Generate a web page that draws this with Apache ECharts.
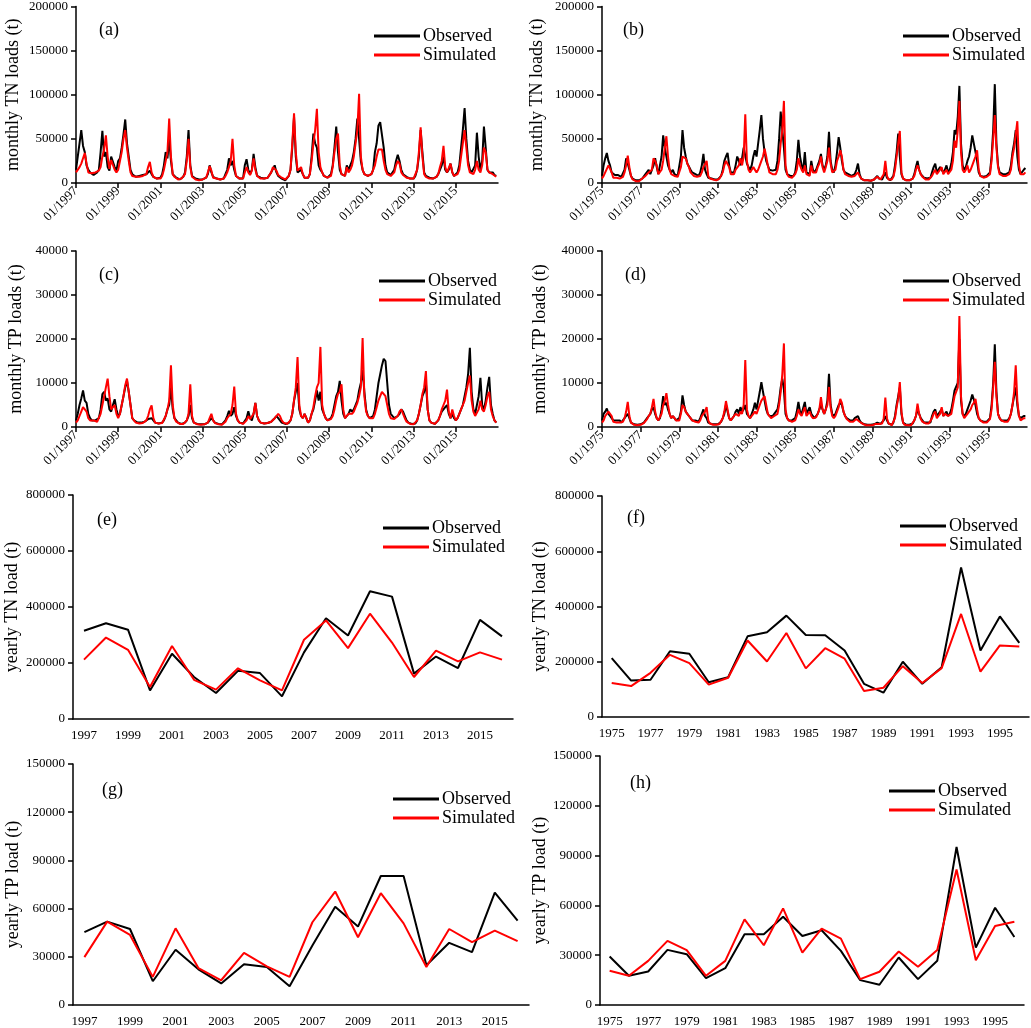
<!DOCTYPE html>
<html><head><meta charset="utf-8">
<script src="https://cdn.jsdelivr.net/npm/echarts/dist/echarts.min.js"></script>
<style>html,body{margin:0;padding:0;background:#fff}#c{width:1031px;height:1028px}</style>
</head><body><div id="c"></div>
<script>
// ---------- categories / tick labels ----------
const yearsE = ['1997','1998','1999','2000','2001','2002','2003','2004','2005','2006','2007','2008','2009','2010','2011','2012','2013','2014','2015','2016'];
const yearsF = ['1975','1976','1977','1978','1979','1980','1981','1982','1983','1984','1985','1986','1987','1988','1989','1990','1991','1992','1993','1994','1995','1996'];
const monthlyStartA = 1997, monthlyEndA = 2017;
const monthlyStartB = 1975, monthlyEndB = 1997;

// ---------- (a) monthly TN 1997-2016 ----------
const tnObsA = [
15000,30000,45000,60000,42000,35000,20000,15000,12000,10000,9000,9000,
12000,15000,35000,59000,30000,35000,18000,14000,30000,31000,18000,14000,
25000,28000,40000,55000,72000,45000,30000,15000,10000,8000,7000,8000,
8000,8000,9000,9000,10000,12000,14000,10000,7000,6000,5000,5000,
6000,10000,20000,35000,28000,50000,25000,10000,8000,6000,5000,4000,
5000,7000,12000,30000,60000,20000,8000,6000,5000,4000,4000,4000,
4000,5000,6000,10000,20000,12000,7000,6000,5000,5000,4000,4000,
5000,10000,15000,28000,20000,25000,15000,8000,6000,5000,5000,5000,
20000,27000,15000,10000,15000,33000,18000,8000,7000,6000,5000,5000,
5000,6000,8000,12000,16000,20000,12000,8000,6000,5000,4000,3000,
5000,8000,15000,40000,75000,30000,12000,10000,15000,10000,6000,5000,
6000,10000,30000,56000,45000,40000,20000,15000,12000,8000,7000,6000,
6000,10000,20000,40000,64000,35000,15000,10000,8000,8000,20000,15000,
20000,25000,35000,50000,73000,50000,25000,15000,10000,9000,8000,8000,
10000,15000,35000,45000,65000,69000,69000,40000,20000,12000,10000,9000,
8000,15000,25000,32000,25000,15000,10000,8000,7000,6000,5000,5000,
5000,8000,15000,30000,60000,35000,12000,8000,6000,6000,5000,5000,
5000,7000,10000,15000,20000,30000,15000,12000,15000,22000,12000,8000,
8000,12000,20000,40000,60000,85000,50000,25000,15000,12000,10000,20000,
57000,30000,15000,25000,64000,40000,15000,12000,10000,12000,9000,8000];
const tnSimA = [
12000,14000,18000,22000,28000,34000,22000,12000,10000,11000,13000,12000,
10000,14000,18000,30000,38000,54000,30000,16000,26000,28000,15000,12000,
15000,25000,35000,50000,60000,40000,25000,12000,8000,8000,7000,7000,
7000,7000,8000,8000,10000,18000,24000,12000,7000,6000,5000,5000,
5000,8000,15000,25000,35000,73000,30000,10000,7000,5000,4000,4000,
5000,6000,10000,25000,50000,18000,7000,5000,4000,4000,3000,3000,
4000,5000,6000,12000,19000,14000,6000,5000,5000,4000,4000,4000,
5000,8000,12000,18000,25000,50000,20000,8000,6000,5000,5000,5000,
12000,18000,12000,9000,14000,28000,15000,8000,6000,5000,5000,5000,
5000,6000,8000,12000,18000,20000,14000,9000,7000,6000,5000,4000,
5000,8000,15000,45000,79000,35000,14000,12000,18000,10000,6000,5000,
6000,10000,25000,45000,60000,84000,35000,18000,12000,8000,7000,6000,
6000,8000,18000,35000,50000,56000,20000,10000,8000,8000,18000,12000,
15000,20000,30000,45000,60000,101000,30000,15000,10000,9000,8000,8000,
10000,12000,20000,30000,38000,40000,38000,25000,15000,10000,9000,8000,
7000,12000,20000,25000,22000,12000,9000,7000,6000,5000,5000,5000,
5000,7000,15000,35000,63000,30000,10000,7000,6000,5000,5000,5000,
5000,7000,10000,18000,25000,42000,18000,12000,14000,22000,12000,8000,
8000,10000,15000,30000,45000,60000,40000,20000,12000,10000,10000,15000,
25000,15000,12000,20000,40000,35000,15000,12000,10000,10000,8000,7000];

// ---------- (b) monthly TN 1975-1996 ----------
const tnObsB = [
8000,20000,28000,34000,25000,20000,12000,10000,9000,10000,9000,8000,
7000,9000,15000,28000,22000,15000,8000,5000,4000,3000,3000,3000,
4000,5000,6000,10000,12000,15000,10000,12000,20000,28000,18000,10000,
12000,30000,54000,40000,30000,20000,15000,12000,15000,10000,8000,8000,
10000,30000,60000,40000,30000,22000,20000,15000,12000,10000,10000,9000,
8000,12000,20000,33000,15000,10000,6000,5000,5000,4000,4000,4000,
4000,5000,8000,15000,25000,30000,34000,20000,12000,10000,12000,20000,
30000,25000,20000,28000,40000,40000,22000,18000,15000,20000,30000,37000,
30000,45000,60000,77000,50000,35000,25000,20000,15000,15000,14000,15000,
15000,25000,50000,81000,60000,40000,15000,10000,8000,8000,7000,8000,
12000,25000,49000,30000,20000,15000,35000,12000,10000,10000,25000,15000,
12000,15000,20000,25000,33000,20000,15000,20000,30000,58000,25000,15000,
12000,20000,35000,52000,40000,25000,15000,12000,10000,10000,9000,8000,
8000,10000,15000,22000,10000,5000,4000,3000,3000,3000,2500,2500,
3000,4000,6000,8000,5000,4000,4000,8000,12000,6000,4000,3000,
4000,8000,20000,35000,56000,30000,10000,5000,3000,3000,3000,3000,
3000,5000,10000,18000,25000,15000,10000,8000,6000,5000,5000,5000,
6000,12000,18000,22000,12000,15000,18000,20000,12000,15000,20000,12000,
15000,22000,35000,60000,55000,75000,110000,45000,20000,15000,18000,25000,
30000,40000,54000,52000,35000,25000,12000,8000,8000,7000,7000,8000,
8000,12000,30000,60000,112000,45000,20000,12000,10000,10000,10000,10000,
10000,12000,20000,35000,45000,60000,30000,15000,10000,12000,15000,17000];
const tnSimB = [
5000,8000,12000,16000,20000,22000,12000,6000,5000,6000,5000,5000,
5000,7000,12000,20000,31000,18000,8000,4000,3000,2000,2000,2000,
4000,5000,6000,8000,10000,12000,10000,15000,28000,25000,20000,10000,
8000,15000,25000,40000,53000,30000,15000,10000,12000,8000,7000,7000,
8000,18000,30000,32000,28000,22000,18000,12000,10000,8000,8000,7000,
6000,8000,12000,18000,20000,25000,8000,5000,4000,4000,3000,3000,
4000,5000,7000,12000,20000,25000,27000,18000,10000,8000,10000,15000,
15000,20000,28000,20000,30000,78000,25000,15000,12000,15000,18000,20000,
12000,15000,20000,25000,30000,39000,30000,20000,12000,12000,10000,10000,
10000,15000,25000,45000,60000,93000,20000,10000,7000,7000,6000,7000,
10000,15000,28000,20000,15000,12000,20000,10000,8000,8000,20000,12000,
10000,12000,18000,22000,30000,18000,12000,18000,25000,40000,22000,12000,
10000,15000,25000,30000,37000,30000,15000,10000,8000,8000,7000,7000,
7000,8000,10000,12000,8000,5000,4000,3000,3000,3000,2500,2500,
3000,4000,5000,7000,5000,4000,5000,10000,25000,8000,4000,3000,
4000,7000,15000,30000,45000,59000,12000,5000,3000,3000,3000,3000,
3000,5000,8000,15000,20000,15000,10000,7000,5000,4000,4000,4000,
5000,8000,12000,15000,10000,12000,15000,18000,10000,12000,15000,10000,
12000,15000,25000,48000,40000,60000,93000,35000,15000,12000,15000,20000,
12000,15000,20000,25000,30000,37000,15000,8000,7000,6000,6000,7000,
7000,10000,25000,50000,77000,40000,18000,10000,8000,8000,8000,8000,
8000,10000,15000,30000,40000,55000,70000,20000,10000,8000,10000,12000];

// ---------- (c) monthly TP 1997-2016 ----------
const tpObsC = [
1500,3000,5000,6500,8300,6000,5500,3000,2000,1500,1500,1500,
1500,2000,4000,7500,8000,6000,6500,4000,3500,5000,6300,4000,
2500,3000,5000,7000,9000,10500,8000,5000,2000,1500,1200,1000,
1000,1000,1000,1200,1500,1800,2000,2000,1500,1000,800,800,
800,1000,1500,2500,4000,5000,9000,4000,2000,1500,1000,800,
700,800,1000,1500,2500,5000,2000,1000,800,700,600,600,
500,600,700,1000,1500,2000,1500,1000,800,700,600,600,
800,1500,2500,3700,2500,3000,4500,2500,1500,1000,800,800,
1000,2000,3600,2000,1500,3000,5500,2500,1500,1000,800,800,
800,900,1000,1200,1500,2000,2500,2000,1500,1000,800,700,
700,900,1500,3000,6000,8000,10000,4000,2500,2000,3000,2000,
1000,1500,3000,4000,6000,8300,6000,8000,4000,3000,2000,1500,
1500,2000,3000,5000,7000,8000,10500,6000,3000,2000,2500,3000,
4000,3500,4000,5000,6000,8300,10000,13000,8000,4000,2500,2000,
2000,2500,4000,7000,10000,12000,14000,15500,15000,10000,5000,3000,
2500,2000,2000,2500,3000,4000,3500,2500,1500,1000,800,700,
600,800,1500,3000,5000,7000,8000,10000,4000,1500,1000,800,
700,900,1500,2500,3500,4000,4500,5000,3000,2000,3000,2000,
1500,2000,3000,4000,5000,7000,9000,12000,18000,8000,4000,3000,
3000,7000,11200,5000,4000,6000,9000,11400,5000,3000,1500,1000];
const tpSimC = [
1000,1500,2500,3500,4500,4900,3500,2000,1500,1500,1500,1500,
1200,1500,3000,5000,7000,9000,11000,7000,4000,4500,5000,3000,
2000,3000,5000,7000,9500,11000,8000,5000,2000,1500,1000,1000,
800,800,900,1000,1500,2500,4000,4900,2000,1000,800,800,
700,900,1200,2500,4000,6000,14000,5000,2000,1200,800,700,
600,700,900,1500,3000,9700,2500,1000,700,600,500,500,
500,600,700,1000,2000,3000,1500,900,700,600,500,500,
700,1200,2000,2500,3000,5000,9200,3000,1500,1000,800,700,
800,1500,2500,1800,1500,3000,5500,2500,1500,1000,800,800,
800,900,1000,1200,1500,2000,2500,3000,2500,1500,1000,800,
700,900,1500,3000,6000,9000,15900,5000,2500,2000,3000,2000,
1000,1500,3000,4500,7000,9000,10000,18200,5000,3000,2000,1500,
1200,1800,2500,4000,6000,7500,8000,9700,4000,2000,2500,3000,
3000,3000,3500,4500,5500,7000,9000,20200,7000,3500,2500,2000,
1800,2000,3000,4500,6000,7000,8000,8000,7000,5000,3000,2000,
2000,1800,2000,2500,3500,4000,3000,2000,1200,800,700,600,
600,800,1500,3000,5000,7500,9000,12700,4000,1500,1000,800,
700,900,1500,2500,4000,5000,6000,8500,3500,2000,4000,2500,
1500,2000,3000,4000,5000,6000,8000,10000,11700,6000,3500,2500,
2500,4000,6000,4000,3500,5000,7000,8000,4000,2500,1500,1000];

// ---------- (d) monthly TP 1975-1996 ----------
const tpObsD = [
1500,3000,3500,4200,3000,2500,2000,1500,1500,1500,1500,1500,
1000,1200,2000,2500,3000,2000,1000,800,600,500,500,500,
600,800,1000,1500,2000,2500,3000,4000,4500,3000,2000,1500,
2000,4000,7000,5000,5500,4000,3000,2000,2500,2000,1500,1500,
2000,3500,7200,5000,3500,3000,2500,2000,1500,1500,1500,1500,
1200,2000,3000,4000,2500,2000,1000,800,700,600,600,600,
600,800,1200,2000,3000,5000,3500,2000,1500,1500,2500,3500,
4000,3000,4500,3500,4000,5000,3000,2500,2000,3000,4000,5500,
4000,6000,8000,10200,8000,6000,4000,3000,2500,2500,2500,3000,
3000,4000,6000,9000,11000,8500,3000,2000,1500,1500,1500,1500,
2000,3500,5700,3500,3000,3000,5700,3000,3000,4500,3000,2500,
2000,2500,3000,4000,5000,4000,3000,4000,6000,12100,5000,3000,
2500,3000,4000,5000,5500,5000,3500,2500,2000,1800,1500,1500,
1500,2000,2200,2500,1500,1000,800,600,500,500,500,500,
500,600,800,1000,800,700,800,1500,2500,1500,800,600,
500,1000,2500,5000,7000,9000,3000,1000,600,500,500,500,
500,800,1500,2500,4000,3000,2000,1500,1000,1000,1000,1000,
1000,2500,3500,4000,2500,3000,3500,4000,2500,3000,3500,2500,
3000,4000,6000,8300,8000,10000,20000,6000,3000,2500,3000,4000,
5000,6000,7400,7000,5000,3000,2000,1500,1500,1200,1200,1200,
1200,2000,5000,10000,18800,8000,3000,2000,1500,1500,1500,1500,
1500,2000,3000,5000,7000,9000,5000,2500,2000,2000,2500,2500];
const tpSimD = [
1000,1500,2500,3000,3500,3800,2500,1200,1000,1000,1000,1000,
1000,1200,2000,3500,5700,2500,1000,700,500,400,400,400,
500,700,900,1200,1800,2500,3000,4500,6400,3500,2000,1500,
1500,3000,5000,6000,7700,5000,3000,2000,2500,2000,1500,1500,
1500,3000,5000,4500,3500,3000,2500,2000,1500,1500,1200,1200,
1000,1500,2500,3000,3500,4500,1500,800,600,500,500,500,
500,700,1000,2000,3500,5900,4000,2000,1500,1500,2500,3000,
3000,2500,3500,3000,5000,15200,4000,2500,2000,2500,3000,3500,
3000,4000,5000,6000,6500,7000,5000,3000,2500,2000,2000,2500,
2500,3000,5000,8000,12000,19000,4000,2000,1500,1500,1200,1200,
1500,2500,4000,3000,2500,2500,4500,2500,2500,3500,2500,2000,
1800,2200,3000,4000,6800,4000,3000,4000,5000,9100,4500,2500,
2000,2500,3500,4500,6400,5500,3500,2500,1800,1500,1200,1200,
1200,1500,1800,2000,1200,900,700,500,400,400,400,400,
400,500,700,900,700,600,800,2000,6700,2000,800,500,
400,800,2000,4500,6500,10200,3500,1000,500,400,400,400,
400,700,1500,2500,5300,3000,1800,1200,900,800,800,800,
900,2000,3000,3500,2000,2500,3000,4500,2500,3000,3000,2500,
2500,3000,5000,7000,7000,9000,25200,7000,3000,2000,2500,3000,
3000,4000,5000,5500,6400,4000,2000,1500,1200,1000,1000,1000,
1000,1800,4000,9000,14800,7000,3000,2000,1500,1200,1200,1200,
1200,1800,3000,5000,8000,14000,6000,2500,1500,1500,2000,2000];

// ---------- (e)-(h) yearly ----------
const tnObsE = [315000,342000,319000,102000,233000,150000,93000,172000,164000,81000,238000,360000,298000,456000,437000,162000,223000,182000,354000,295000];
const tnSimE = [212000,291000,247000,114000,261000,140000,105000,181000,138000,102000,283000,352000,253000,376000,273000,150000,244000,206000,238000,212000];
const tnObsF = [213000,132000,135000,238000,229000,126000,144000,292000,307000,367000,297000,296000,241000,120000,88000,200000,120000,180000,541000,241000,364000,268000];
const tnSimF = [123000,112000,160000,225000,195000,117000,142000,277000,201000,304000,176000,249000,211000,94000,106000,184000,123000,177000,373000,164000,259000,255000];
const tpObsG = [45300,51900,47300,14800,34400,22200,13400,25300,23700,11700,37000,61100,48800,80300,80300,24700,38700,32900,70000,52500];
const tpSimG = [29800,51900,43600,17500,47700,23000,15400,32500,24000,17500,51500,70600,42200,69600,50800,23700,47300,39100,46300,39700];
const tpObsH = [29200,17600,20200,33200,30600,16200,22200,42600,42600,53200,41600,45000,32600,15000,12200,28600,15600,26600,95200,34600,58600,41000];
const tpSimH = [20600,17600,26600,38600,33000,17600,26600,51600,36000,58200,31600,46000,40000,15600,20000,32200,23000,33200,81600,27000,47600,50200];

const seriesNames = ['Observed','Simulated'];
const panelLabels = ['(a)','(b)','(c)','(d)','(e)','(f)','(g)','(h)'];

// ---------- build ----------
const FONT = 'Liberation Serif';
const BLACK = '#000000', RED = '#ff0000';
const monthly = (start, arr) => arr.map((v, i) => [start + i / 12, v]);

const grids = [
  {left:76, top:6, width:422, height:177},
  {left:602, top:6, width:425, height:177},
  {left:76, top:251, width:422, height:176},
  {left:602, top:251, width:425, height:176},
  {left:73, top:495, width:440, height:224},
  {left:602, top:496, width:427, height:221},
  {left:73, top:764, width:456, height:243},
  {left:600, top:756, width:424, height:250}
];
const axisLineStyle = {color:BLACK, width:1.5};
const tickLbl = {color:BLACK, fontFamily:FONT, fontSize:13};

function monthX(i, lo, hi) {
  return {type:'value', gridIndex:i, min:lo, max:hi, interval:2,
    axisLine:{lineStyle:axisLineStyle}, axisTick:{length:5, lineStyle:axisLineStyle},
    splitLine:{show:false},
    axisLabel:Object.assign({rotate:45, margin:6, showMaxLabel:false,
      formatter: v => (v === hi ? '' : '01/' + v)}, tickLbl)};
}
function yearX(i, cats) {
  return {type:'category', gridIndex:i, data:cats, boundaryGap:true,
    axisLine:{lineStyle:axisLineStyle}, axisTick:{length:5, interval:1, lineStyle:axisLineStyle},
    axisLabel:Object.assign({interval:1, margin:10}, tickLbl)};
}
function yAx(i, max, interval, name, gap) {
  return {type:'value', gridIndex:i, min:0, max:max, interval:interval,
    axisLine:{show:true, lineStyle:axisLineStyle}, axisTick:{show:true, length:5, lineStyle:axisLineStyle},
    splitLine:{show:false}, axisLabel:Object.assign({margin:8, formatter: v => String(v)}, tickLbl),
    name:name, nameLocation:'middle', nameGap:gap,
    nameTextStyle:{color:BLACK, fontFamily:FONT, fontSize:18}};
}
function pair(i, obs, sim) {
  const base = {type:'line', xAxisIndex:i, yAxisIndex:i, symbol:'none', showSymbol:false, animation:false};
  return [
    Object.assign({name:seriesNames[0], data:obs, lineStyle:{color:BLACK, width:2}, itemStyle:{color:BLACK}}, base),
    Object.assign({name:seriesNames[1], data:sim, lineStyle:{color:RED, width:2}, itemStyle:{color:RED}}, base)
  ];
}
function legend(left, top) {
  return {left:left, top:top, orient:'vertical', icon:'rect', itemWidth:46, itemHeight:3, itemGap:1,
    selectedMode:false, textStyle:{color:BLACK, fontFamily:FONT, fontSize:18, padding:[0,0,0,-2]},
    data:seriesNames};
}
const labelPos = [[99,21],[623,21],[99,266],[625,266],[97,511],[627,509],[102,781],[630,774]];

const option = {
  backgroundColor:'#fff',
  animation:false,
  grid: grids,
  xAxis: [
    monthX(0, monthlyStartA, monthlyEndA), monthX(1, monthlyStartB, monthlyEndB),
    monthX(2, monthlyStartA, monthlyEndA), monthX(3, monthlyStartB, monthlyEndB),
    yearX(4, yearsE), yearX(5, yearsF), yearX(6, yearsE), yearX(7, yearsF)
  ],
  yAxis: [
    yAx(0, 200000, 50000, 'monthly TN loads (t)', 54),
    yAx(1, 200000, 50000, 'monthly TN loads (t)', 56),
    yAx(2, 40000, 10000, 'monthly TP loads (t)', 51),
    yAx(3, 40000, 10000, 'monthly TP loads (t)', 53),
    yAx(4, 800000, 200000, 'yearly TN load (t)', 52),
    yAx(5, 800000, 200000, 'yearly TN load (t)', 53),
    yAx(6, 150000, 30000, 'yearly TP load (t)', 47),
    yAx(7, 150000, 30000, 'yearly TP load (t)', 42)
  ],
  legend: [legend(369,22), legend(898,22), legend(374,267), legend(898,267),
           legend(378,514), legend(895,512), legend(388,785), legend(884,777)],
  series: [].concat(
    pair(0, monthly(monthlyStartA, tnObsA), monthly(monthlyStartA, tnSimA)),
    pair(1, monthly(monthlyStartB, tnObsB), monthly(monthlyStartB, tnSimB)),
    pair(2, monthly(monthlyStartA, tpObsC), monthly(monthlyStartA, tpSimC)),
    pair(3, monthly(monthlyStartB, tpObsD), monthly(monthlyStartB, tpSimD)),
    pair(4, tnObsE, tnSimE), pair(5, tnObsF, tnSimF),
    pair(6, tpObsG, tpSimG), pair(7, tpObsH, tpSimH)
  ),
  graphic: panelLabels.map((t, i) => ({type:'text', left:labelPos[i][0], top:labelPos[i][1],
    style:{text:t, fill:BLACK, font:'18px "Liberation Serif"'}}))
};
const chart = echarts.init(document.getElementById('c'), null, {renderer:'canvas'});
chart.setOption(option);
</script></body></html>
